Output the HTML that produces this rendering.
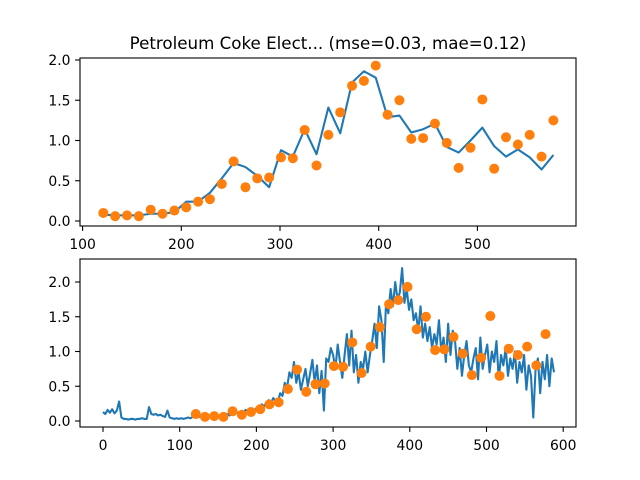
<!DOCTYPE html>
<html><head><meta charset="utf-8"><style>
body{margin:0;background:#fff;}
svg{display:block;font-family:"DejaVu Sans","Liberation Sans",sans-serif;}
</style></head><body>
<svg id="chart" width="640" height="480" viewBox="0 0 640 480" xmlns="http://www.w3.org/2000/svg">
<rect width="640" height="480" fill="#fff"/>
<text x="328" y="49" font-size="16.7" text-anchor="middle">Petroleum Coke Elect... (mse=0.03, mae=0.12)</text>
<g id="top"></g>
<g id="bot"></g>
</svg>
<script>
const sampleX = [121,133,145,157,169,181,193,205,217,229,241,253,265,277,289,301,313,325,337,349,361,373,385,397,409,421,433,445,457,469,481,493,505,517,529,541,553,565,577];
const actual = [0.10,0.06,0.07,0.06,0.14,0.09,0.13,0.17,0.24,0.27,0.46,0.74,0.42,0.53,0.54,0.79,0.78,1.13,0.69,1.07,1.35,1.68,1.74,1.93,1.32,1.50,1.02,1.03,1.21,0.97,0.66,0.91,1.51,0.65,1.04,0.95,1.07,0.80,1.25];
const predicted = [0.08,0.07,0.07,0.07,0.09,0.09,0.11,0.24,0.24,0.35,0.53,0.72,0.67,0.56,0.42,0.88,0.80,1.14,0.83,1.41,1.09,1.72,1.86,1.78,1.29,1.31,1.10,1.14,1.21,0.92,0.85,1.00,1.16,0.93,0.80,0.89,0.79,0.64,0.82];
const seriesStep = 3;
const series = [0.13,0.10,0.16,0.12,0.17,0.11,0.15,0.28,
0.05,0.03,0.03,0.02,0.03,0.03,0.02,0.03,0.03,0.04,0.03,0.03,
0.20,0.10,0.09,0.10,0.08,0.09,0.07,0.06,
0.15,
0.05,0.04,0.03,0.04,0.03,0.04,0.03,0.04,0.05,0.04,0.06,
0.05,0.07,0.06,0.08,0.07,0.06,0.08,0.07,0.09,0.08,0.06,0.08,0.07,0.09,0.10,0.08,0.11,
0.10,0.13,0.11,0.14,0.12,0.16,0.13,0.15,0.17,0.16,
0.20,0.18,0.24,0.21,0.27,0.30,0.25,0.33,0.29,0.28,
0.40,0.36,0.55,0.48,0.70,0.62,0.85,
0.55,0.70,0.45,0.60,0.75,0.50,0.68,0.88,0.55,0.80,0.40,0.72,0.15,
0.90,0.85,1.05,0.95,0.75,1.10,0.85,0.62,0.95,1.25,0.80,1.30,0.70,0.95,
0.55,0.85,0.75,1.00,0.70,0.95,
1.15,1.40,1.05,1.65,1.45,0.85,
1.70,1.55,1.90,1.65,2.00,1.75,1.85,2.20,1.70,1.90,
1.60,1.75,1.45,1.55,1.30,1.65,1.20,1.40,
1.15,1.35,1.05,1.25,1.10,1.45,1.00,1.20,0.85,1.40,0.95,1.30,1.15,
0.75,1.05,0.65,0.95,1.15,0.80,0.70,0.90,1.05,0.60,1.20,0.75,0.95,
1.10,0.70,1.00,0.85,1.15,0.60,0.95,0.80,1.05,0.65,0.90,0.75,1.00,
0.55,0.85,0.70,0.95,0.45,0.80,0.65,0.05,0.75,0.90,0.40,0.85,0.60,0.95,0.50,0.90,0.70];
const topXTicks = [100,200,300,400,500];
const botXTicks = [0,100,200,300,400,500,600];
const yTicks = [0.0,0.5,1.0,1.5,2.0];

const NS = "http://www.w3.org/2000/svg";
function mk(parent, tag, attrs){const e=document.createElementNS(NS,tag);for(const k in attrs)e.setAttribute(k,attrs[k]);parent.appendChild(e);return e;}

function panel(g, box, xs, ys, xTicks, prefix){
  const f = mk(g,'rect',{x:box.l,y:box.t,width:box.r-box.l,height:box.b-box.t,fill:'none',stroke:'#000','stroke-width':1.1});
  
  
  xTicks.forEach(v=>{
    const x=xs(v);
    const t=mk(g,'line',{x1:x,x2:x,y1:box.b,y2:box.b+4.9,stroke:'#000','stroke-width':1.1});
    
    
    const l=mk(g,'text',{x:x,y:box.b+23,'font-size':13.9,'text-anchor':'middle'});
    l.textContent=String(v);
    
    
  });
  yTicks.forEach(v=>{
    const y=ys(v);
    const t=mk(g,'line',{x1:box.l-4.9,x2:box.l,y1:y,y2:y,stroke:'#000','stroke-width':1.1});
    
    
    const l=mk(g,'text',{x:box.l-9.5,y:y+5,'font-size':13.9,'text-anchor':'end'});
    l.textContent=v.toFixed(1);
    
    
  });
}
function drawLine(g, xsArr, vals, xs, ys, name){
  const p=mk(g,'polyline',{points:vals.map((v,i)=>xs(xsArr[i]).toFixed(2)+','+ys(v).toFixed(2)).join(' '),fill:'none',stroke:'#1f77b4','stroke-width':2.08,'stroke-linejoin':'round'});
  
  
}
function drawDots(g, xs, ys, name){
  actual.forEach((v,i)=>{
    const c=mk(g,'circle',{cx:xs(sampleX[i]),cy:ys(v),r:5,fill:'#ff7f0e'});
    
    
  });
}

const topBox={l:80,r:576,t:58,b:226};
const txs=v=>82.6+(v-100)*0.987;
const tys=v=>221-v*80.5;
const gt=document.getElementById('top');
panel(gt, topBox, txs, tys, topXTicks, 'top');
drawLine(gt, sampleX, predicted, txs, tys, 'top-prediction-line');
drawDots(gt, txs, tys, 'top-actual-point');

const botBox={l:80,r:576,t:259,b:427};
const bxs=v=>103+v*0.767;
const bys=v=>421-v*69.5;
const gb=document.getElementById('bot');
panel(gb, botBox, bxs, bys, botXTicks, 'bottom');
const seriesX = series.map((_,i)=>i*seriesStep);
drawLine(gb, seriesX, series, bxs, bys, 'bottom-full-series-line');
drawDots(gb, bxs, bys, 'bottom-actual-point');
</script>
</body></html>
